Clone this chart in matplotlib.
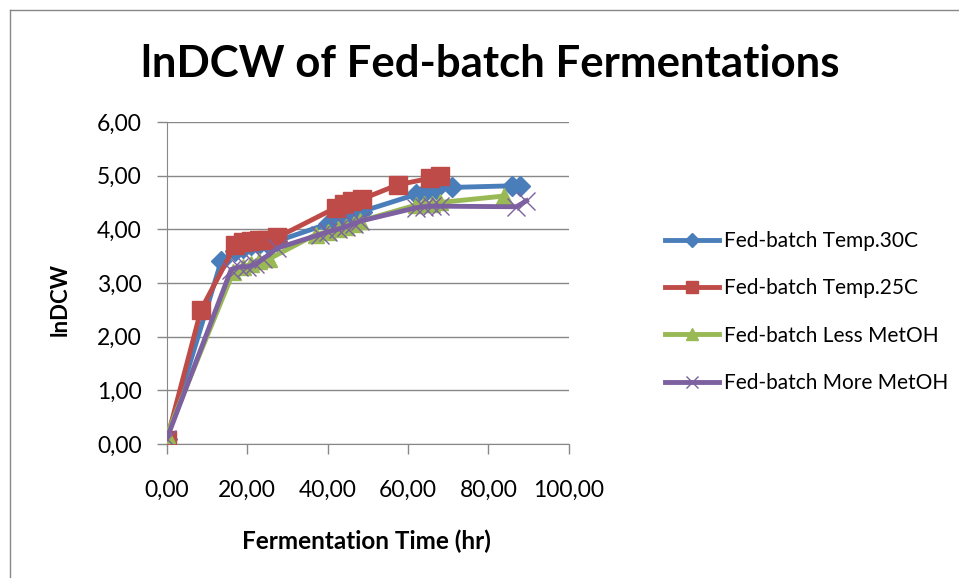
import matplotlib
matplotlib.use("Agg")
import matplotlib.pyplot as plt
from matplotlib.ticker import FuncFormatter
from matplotlib.lines import Line2D

# data
t30_x = [0, 13.5, 17, 19, 21, 23, 25, 27.5, 40, 42.5, 44.5, 46.5, 48.5, 62, 64.5, 67, 71, 86, 88]
t30_y = [0.10, 3.40, 3.60, 3.65, 3.70, 3.72, 3.75, 3.78, 4.10, 4.15, 4.20, 4.27, 4.33, 4.65, 4.72, 4.75, 4.78, 4.81, 4.81]

t25_x = [0, 8.5, 17, 19, 21, 23, 25, 27.5, 42, 44, 46, 48.5, 57.5, 65.5, 68]
t25_y = [0.08, 2.50, 3.70, 3.76, 3.78, 3.80, 3.80, 3.85, 4.40, 4.47, 4.52, 4.56, 4.83, 4.95, 4.99]

less_x = [0, 16.5, 19, 21, 23, 25.5, 37, 40, 42.5, 44.5, 46.5, 48, 62, 64, 66, 68, 84]
less_y = [0.17, 3.20, 3.30, 3.35, 3.40, 3.45, 3.90, 3.95, 4.00, 4.05, 4.10, 4.15, 4.45, 4.47, 4.48, 4.50, 4.62]

more_x = [0, 16, 18, 20, 22, 24, 27.5, 38, 40, 42.5, 44.5, 46.5, 48, 62, 64, 66, 68, 87, 89.5]
more_y = [0.10, 3.25, 3.30, 3.30, 3.35, 3.45, 3.65, 3.90, 3.95, 4.00, 4.05, 4.10, 4.15, 4.40, 4.42, 4.43, 4.43, 4.42, 4.53]

labels = ["Fed-batch Temp.30C", "Fed-batch Temp.25C",
          "Fed-batch Less MetOH", "Fed-batch More MetOH"]

plt.rcParams['font.family'] = ['Lato', 'DejaVu Sans']

fig = plt.figure(figsize=(9.59, 5.78), dpi=100)
ax = fig.add_axes([0.174, 0.232, 0.419, 0.557])

# chart frame
fig.add_artist(Line2D([10/959, 10/959], [0, 1 - 10/578], transform=fig.transFigure, color='#888888', lw=1))
fig.add_artist(Line2D([10/959, 1], [1 - 10/578, 1 - 10/578], transform=fig.transFigure, color='#888888', lw=1))

ax.plot(t30_x, t30_y, color='#4A7EBB', lw=3.5, marker='D', ms=10, label=labels[0], zorder=3)
ax.plot(t25_x, t25_y, color='#BE4B48', lw=3.5, marker='s', ms=13, label=labels[1], zorder=4)
ax.plot(less_x, less_y, color='#98B954', lw=3.5, marker='^', ms=12, label=labels[2], zorder=5)
ax.plot(more_x, more_y, color='#7D60A0', lw=3.5, marker='x', ms=13, mew=1, label=labels[3], zorder=6)

ax.set_xlim(0, 100)
ax.set_ylim(0, 6)
ax.set_xticks(range(0, 101, 20))
ax.set_yticks(range(0, 7))
fmt = FuncFormatter(lambda v, p: f"{v:.2f}".replace('.', ','))
ax.xaxis.set_major_formatter(fmt)
ax.yaxis.set_major_formatter(fmt)
ax.tick_params(labelsize=16.5, color='#888888', length=7, width=1)
ax.tick_params(axis='y', pad=11)
ax.tick_params(axis='x', pad=19)
ax.grid(axis='y', color='#888888', lw=1)
ax.set_axisbelow(True)
for s in ['top', 'right']:
    ax.spines[s].set_visible(False)
for s in ['left', 'bottom']:
    ax.spines[s].set_color('#888888')

ax.set_xlabel("Fermentation Time (hr)", fontsize=17.5, fontweight='bold')
ax.set_ylabel("lnDCW", fontsize=16, fontweight='bold')
ax.xaxis.set_label_coords(0.4975, -0.267)
ax.yaxis.set_label_coords(-0.239, 0.447)
fig.text(0.511, 0.889, "lnDCW of Fed-batch Fermentations", fontsize=31.5, fontweight='bold',
         ha='center', va='center')

fig.legend(loc='upper left', bbox_to_anchor=(0.693, 0.600), frameon=False, fontsize=15,
           handlelength=2.6, labelspacing=1.31, handletextpad=0.25, borderpad=0,
           borderaxespad=0, markerscale=0.7)

plt.savefig("out.png", dpi=100)
